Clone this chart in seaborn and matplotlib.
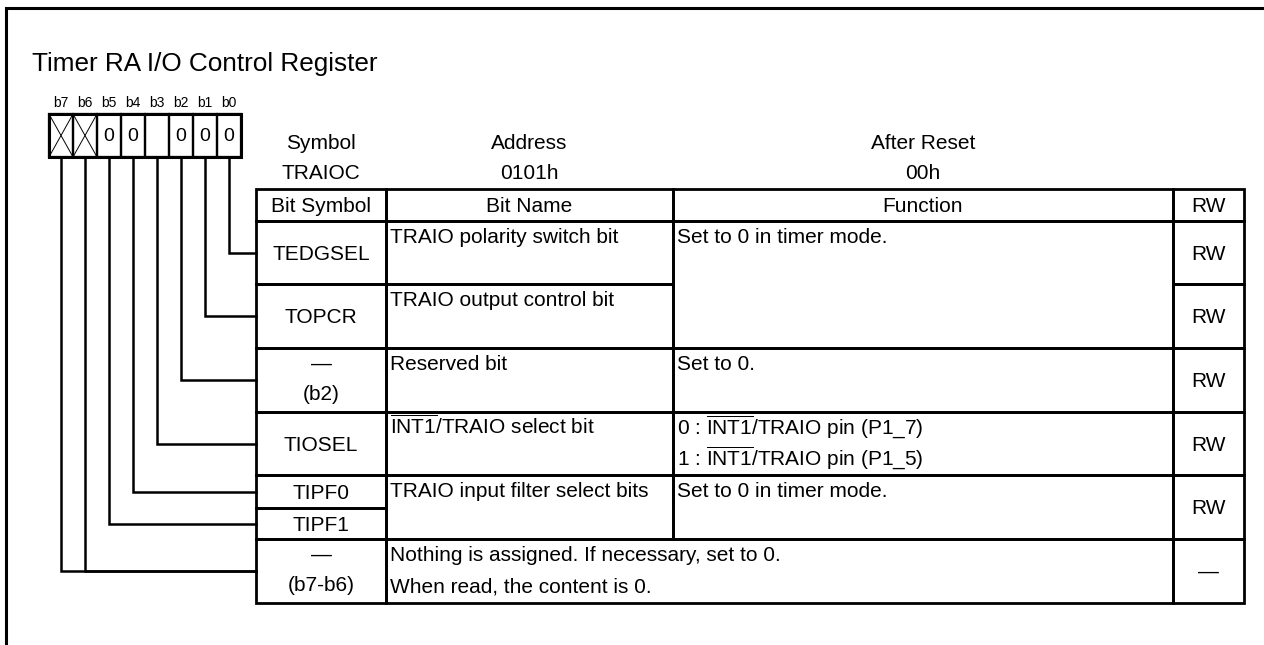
import matplotlib
matplotlib.use("Agg")
import matplotlib.pyplot as plt
from matplotlib.patches import Rectangle
import seaborn as sns

# ---------------------------------------------------------
# Register content
# ---------------------------------------------------------
title = "Timer RA I/O Control Register"
bit_labels = ["b7", "b6", "b5", "b4", "b3", "b2", "b1", "b0"]
reset_bits = ["x", "x", "0", "0", "", "0", "0", "0"]   # "x" = no bit
info_titles = ["Symbol", "Address", "After Reset"]
info_values = ["TRAIOC", "0101h", "00h"]
header = ["Bit Symbol", "Bit Name", "Function", "RW"]

INT1 = r"$\overline{\mathrm{INT1}}$"
bit_symbols = ["TEDGSEL", "TOPCR", "—\n(b2)", "TIOSEL", "TIPF0", "TIPF1", "—\n(b7-b6)"]
bit_names = ["TRAIO polarity switch bit",
             "TRAIO output control bit",
             "Reserved bit",
             INT1 + "/TRAIO select bit",
             "TRAIO input filter select bits",
             "Nothing is assigned. If necessary, set to 0.\nWhen read, the content is 0."]
functions = ["Set to 0 in timer mode.",
             "Set to 0.",
             "0 : " + INT1 + "/TRAIO pin (P1_7)\n1 : " + INT1 + "/TRAIO pin (P1_5)",
             "Set to 0 in timer mode."]
rw_flags = ["RW", "RW", "RW", "RW", "RW", "—"]
# which bit (b0..b7) each symbol row belongs to
symbol_bits = [[0], [1], [2], [3], [4], [5], [6, 7]]

# ---------------------------------------------------------
# Layout (pixels)
# ---------------------------------------------------------
cols = [256, 386, 673, 1173, 1244]
head_top = 189
row_edges = [221, 284, 348, 412, 475, 508, 539, 603]   # symbol rows
name_rows = [(0, 1), (1, 2), (2, 3), (3, 4), (4, 6)]   # row spans of bit name cells
func_rows = [(0, 2), (2, 3), (3, 4), (4, 6)]
rw_rows = [(0, 1), (1, 2), (2, 3), (3, 4), (4, 6), (6, 7)]
reg_x0, reg_w, reg_top, reg_bot = 49, 24, 114, 157

sns.set_style("white")
plt.rcParams['font.family'] = ['Liberation Sans', 'DejaVu Sans']
plt.rcParams['mathtext.fontset'] = 'custom'
plt.rcParams['mathtext.rm'] = 'Liberation Sans'
plt.rcParams['text.color'] = 'black'

fig = plt.figure(figsize=(12.64, 6.45), dpi=100)
ax = fig.add_axes([0, 0, 1, 1])
ax.set_xlim(0, 1264)
ax.set_ylim(645, 0)
ax.axis('off')

FS = 15
LW = 2.0
STEP = 31


def line(pts, lw=LW):
    xs, ys = zip(*pts)
    ax.plot(xs, ys, color='black', lw=lw, solid_capstyle='projecting',
            solid_joinstyle='miter')


def box(x0, x1, y0, y1, lw=LW):
    ax.add_patch(Rectangle((x0, y0), x1 - x0, y1 - y0, fill=False,
                           edgecolor='black', lw=lw, joinstyle='miter'))


def put(x, y, s, ha='center', fs=FS):
    # y = centre of the first text line
    for k, part in enumerate(s.split("\n")):
        ax.text(x, y + k * STEP + 0.34 * fs / 0.72, part, ha=ha, va='baseline',
                fontsize=fs, color='black')


# outer frame
line([(6, 645), (6, 8), (1264, 8)], lw=2.2)
ax.text(32, 64, title, fontsize=18.8, va='center', ha='left')

# register bits
for i, (lab, val) in enumerate(zip(bit_labels, reset_bits)):
    x0 = reg_x0 + i * reg_w
    xc = x0 + reg_w / 2
    ax.text(xc, 103, lab, fontsize=10, ha='center', va='center')
    box(x0, x0 + reg_w, reg_top, reg_bot, lw=1.6)
    if val == "x":
        line([(x0, reg_top), (x0 + reg_w, reg_bot)], lw=0.7)
        line([(x0, reg_bot), (x0 + reg_w, reg_top)], lw=0.7)
    elif val:
        ax.text(xc, (reg_top + reg_bot) / 2 + 1, val, fontsize=14,
                ha='center', va='center')
box(reg_x0, reg_x0 + 8 * reg_w, reg_top, reg_bot, lw=2.2)

# leader lines from each bit down to its table row
for r, bits in enumerate(symbol_bits):
    yc = (row_edges[r] + row_edges[r + 1]) / 2
    for b in bits:
        xc = reg_x0 + (7 - b) * reg_w + reg_w / 2
        line([(xc, reg_bot), (xc, yc), (cols[0], yc)], lw=1.8)

# symbol / address / reset info
for k in range(3):
    xc = (cols[k] + cols[k + 1]) / 2
    put(xc, 142, info_titles[k])
    put(xc, 172, info_values[k])

# header row
for k, h in enumerate(header):
    box(cols[k], cols[k + 1], head_top, row_edges[0])
    put((cols[k] + cols[k + 1]) / 2, (head_top + row_edges[0]) / 2, h)

# bit symbol column
for r, s in enumerate(bit_symbols):
    y0, y1 = row_edges[r], row_edges[r + 1]
    box(cols[0], cols[1], y0, y1)
    if "\n" in s:
        top, bot = s.split("\n")
        put((cols[0] + cols[1]) / 2, y0 + 15, top)
        put((cols[0] + cols[1]) / 2, y0 + 45, bot)
    else:
        put((cols[0] + cols[1]) / 2, (y0 + y1) / 2, s)

# bit name column (last row spans name + function)
for (a, b), s in zip(name_rows + [(6, 7)], bit_names):
    x1 = cols[2] if a < 6 else cols[3]
    box(cols[1], x1, row_edges[a], row_edges[b])
    put(cols[1] + 4, row_edges[a] + 15, s, ha='left')

# function column
for (a, b), s in zip(func_rows, functions):
    box(cols[2], cols[3], row_edges[a], row_edges[b])
    put(cols[2] + 4, row_edges[a] + 15, s, ha='left')

# RW column
for (a, b), s in zip(rw_rows, rw_flags):
    box(cols[3], cols[4], row_edges[a], row_edges[b])
    put((cols[3] + cols[4]) / 2, (row_edges[a] + row_edges[b]) / 2, s)

fig.savefig("out.png", dpi=100, facecolor='white')
